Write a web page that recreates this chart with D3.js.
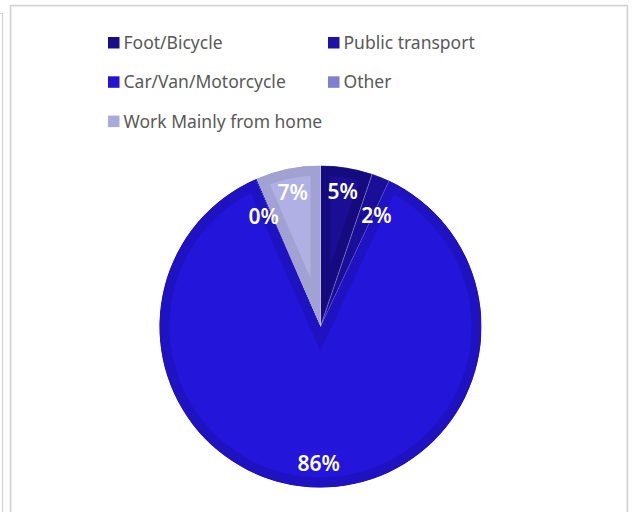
<!DOCTYPE html>
<html><head><meta charset="utf-8">
<script src="https://cdn.jsdelivr.net/npm/d3@7/dist/d3.min.js"></script>
<style>
html,body{margin:0;padding:0;background:#fff;}
svg{display:block;}
</style></head>
<body>
<svg id="c" width="632" height="512"></svg>
<script>
const categories = ["Foot/Bicycle","Public transport","Car/Van/Motorcycle","Other","Work Mainly from home"];
const values = [5.2, 1.8, 86.4, 0.1, 6.5];
const labels = ["5%","2%","86%","0%","7%"];
const fills = ["#1a0e94","#1f12b0","#2315d9","#7f7fd0","#b0b0e4"];
const edges = ["#160b7e","#1a0e98","#1f12c0","#1f12c0","#a2a2d2"];
const legendFills = ["#1a0d8c","#1e11a8","#2214d2","#7f7fd0","#a9a9dc"];

const svg = d3.select("#c");
// frames
svg.append("rect").attr("x",10.5).attr("y",5.5).attr("width",617).attr("height",520)
  .attr("fill","none").attr("stroke","#d4d4d4").attr("stroke-width",1.5);
svg.append("rect").attr("x",11.5).attr("y",6.5).attr("width",615).attr("height",520)
  .attr("fill","none").attr("stroke","#ececec").attr("stroke-width",1);
svg.append("path").attr("d","M0,13.5H2.5V512").attr("fill","none").attr("stroke","#d4d4d4").attr("stroke-width",1.2);

// legend
const leg = svg.append("g");
const colX = [108, 328], rowY = [37, 76.3, 115.6];
categories.forEach((c,i)=>{
  const col = i%2, row = Math.floor(i/2);
  const g = leg.append("g").attr("transform",`translate(${colX[col]},${rowY[row]})`);
  g.append("rect").attr("width",11.5).attr("height",11.5).attr("fill",legendFills[i]);
  g.append("text").attr("x",15.5).attr("y",12).text(c)
    .attr("font-family","'Noto Sans', 'Open Sans', sans-serif").attr("font-size",17.5)
    .attr("fill","#595959");
});

// pie
const cx = 320.5, cy = 326.5, R = 161;
const pie = d3.pie().sort(null).value(d=>d)(values);
const arc = d3.arc().innerRadius(0).outerRadius(R);
const g = svg.append("g").attr("transform",`translate(${cx},${cy})`);
const defs = svg.append("defs");
pie.forEach((p,i)=>{
  defs.append("clipPath").attr("id","cl"+i).append("path").attr("d",arc(p));
});
g.selectAll("path.s").data(pie).join("path").attr("class","s")
  .attr("d",arc).attr("fill",(d,i)=>fills[i])
  .attr("stroke",(d,i)=>edges[i]).attr("stroke-width",20)
  .attr("clip-path",(d,i)=>`url(#cl${i})`);
g.selectAll("path.sep").data(pie.slice(0,2)).join("path").attr("class","sep")
  .attr("d",arc).attr("fill","none").attr("stroke","rgba(255,255,255,0.3)").attr("stroke-width",0.6);

// labels
const labelArc = d3.arc().innerRadius(137).outerRadius(137);
g.selectAll("text.l").data(pie).join("text").attr("class","l")
  .attr("transform",(d,i)=>{
    const v = d.value;
    let c;
    if (v < 3) {
      const mid = (d.startAngle + d.endAngle)/2;
      const shift = mid < Math.PI ? 0.085 : -0.065;
      const a = mid + shift;
      c = [Math.sin(a)*124, -Math.cos(a)*124];
    } else c = labelArc.centroid(d);
    return `translate(${c[0]},${c[1]})`;
  })
  .attr("text-anchor","middle").attr("dy","0.36em")
  .attr("font-family","'Noto Sans', 'Open Sans', sans-serif").attr("font-size",21).attr("font-weight",600)
  .attr("fill","#ffffff").text((d,i)=>labels[i]);
</script>
</body></html>
